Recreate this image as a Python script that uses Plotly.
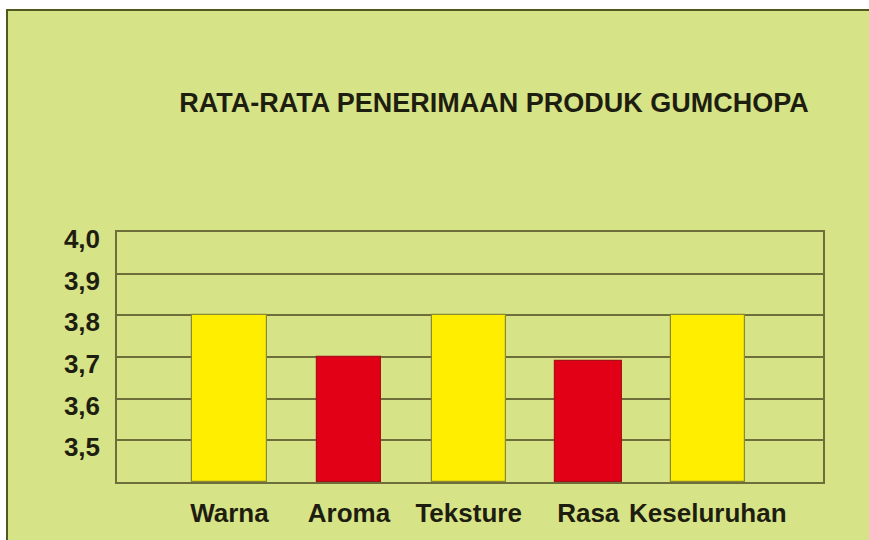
import plotly.graph_objects as go

categories = ["Warna", "Aroma", "Teksture", "Rasa", "Keseluruhan"]
values = [3.80, 3.70, 3.80, 3.69, 3.80]
tick_vals = [3.5, 3.6, 3.7, 3.8, 3.9, 4.0]
tick_text = ["3,5", "3,6", "3,7", "3,8", "3,9", "4,0"]
title_text = "RATA-RATA PENERIMAAN PRODUK GUMCHOPA"

base_value = 3.4
x_pos = list(range(len(categories)))
bar_widths = [0.62, 0.54, 0.62, 0.56, 0.62]
fill_colors = ["#ffee00", "#e20016", "#ffee00", "#e20016", "#ffee00"]
line_colors = ["#8a8a30", "#a8101a", "#8a8a30", "#a8101a", "#8a8a30"]

GREEN = "#d7e387"
GRID = "#6e6e3a"
FONT = "Liberation Sans, Arial, sans-serif"

fig = go.Figure(go.Bar(
    x=x_pos,
    y=[v - base_value for v in values],
    base=base_value,
    width=bar_widths,
    marker=dict(color=fill_colors, line=dict(color=line_colors, width=1.2)),
    hoverinfo="skip",
))

fig.add_shape(type="rect", xref="paper", yref="paper",
              x0=-0.1558, x1=1.08, y0=-0.3, y1=1.888,
              fillcolor=GREEN, line=dict(color="#4f5a1c", width=2), layer="below")

fig.update_layout(
    width=869, height=540,
    margin=dict(l=117, r=46, t=232, b=58, autoexpand=False),
    paper_bgcolor="white",
    plot_bgcolor="rgba(0,0,0,0)",
    showlegend=False,
    bargap=0,
    title=dict(text=f"<b>{title_text}</b>", x=0.534, xanchor="center", xref="paper",
               y=1 - 103 / 540, yanchor="middle",
               font=dict(family=FONT, size=27, color="#1e1e10")),
    xaxis=dict(
        range=[-0.94, 4.963],
        tickvals=x_pos,
        ticktext=[f"<b>{c}</b>" for c in categories],
        tickfont=dict(family=FONT, size=26, color="#1e1e10"),
        showgrid=False, zeroline=False,
        showline=True, linecolor=GRID, linewidth=1.5, mirror=True,
        ticks="", ticklabelstandoff=7,
        automargin=False,
        fixedrange=True,
    ),
    yaxis=dict(
        range=[3.4, 4.0],
        tickvals=tick_vals,
        ticktext=[f"<b>{t}</b>" for t in tick_text],
        tickfont=dict(family=FONT, size=26, color="#1e1e10"),
        showgrid=True, gridcolor=GRID, gridwidth=1.5,
        zeroline=False,
        showline=True, linecolor=GRID, linewidth=1.5, mirror=True,
        ticks="", ticklabelstandoff=10, ticklabelshift=7,
        automargin=False,
        fixedrange=True,
    ),
)

fig.write_html("out.html", config={"displayModeBar": False},
               post_script="document.body.style.margin='0';document.body.style.overflow='hidden';")
